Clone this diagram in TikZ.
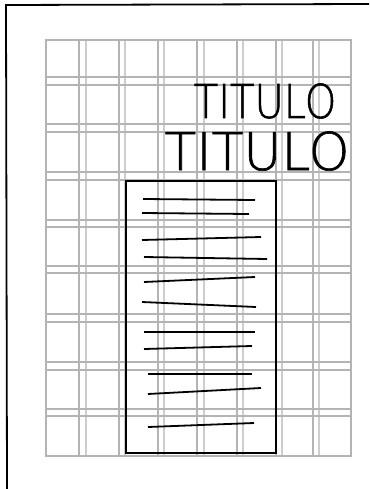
\documentclass[tikz,border=0pt]{standalone}
\usepackage{fontspec}
\newfontfamily\thinfont[FakeBold=1.2]{DejaVu Sans ExtraLight}
\definecolor{gridgray}{HTML}{B4B4B4}
\definecolor{gridlight}{HTML}{CDCDCD}
\tikzset{
	pageedge/.style={line width=1.8pt, draw=black},
	gridline/.style={line width=1.1pt, draw=gridgray},
	gridfaint/.style={line width=1.1pt, draw=gridlight},
	blockbox/.style={line width=2pt, draw=black},
	textstroke/.style={line width=1.8pt, draw=black},
	titlenode/.style={inner sep=0pt, anchor=base, font=\thinfont}
}

\begin{document}
\begin{tikzpicture}[x=1pt, y=-1pt]
	\useasboundingbox (0,0) rectangle (369,489);
	% page edges
	\draw[pageedge] (7,489) -- (6,5) -- (369,4);
	% grid columns and rows
	\foreach \gx in {79,119,158,197,237,276,313}
		\draw[gridline] (\gx,40) -- (\gx,456);
	\foreach \gx in {86,125,164,204,243,282,319}
		\draw[gridfaint] (\gx,40) -- (\gx,456);
	\foreach \gy in {77,85,124,132,172,180,220,227,266,273,314,322,362,370,409,416}
		\draw[gridline] (46,\gy) -- (351,\gy);
	\draw[gridline] (46,40) rectangle (351,456);
	% titles
	\node[titlenode, font=\thinfont\fontsize{46.6}{50}\selectfont, xscale=0.86] (title1) at (265,118) {TITULO};
	\node[titlenode, font=\thinfont\fontsize{52}{56}\selectfont] (title2) at (257,170) {TITULO};
	% text block
	\draw[blockbox] (126,181) rectangle (276,453);
	\draw[textstroke] (143,199) -- (255,200);
	\draw[textstroke] (142,213) -- (249,214);
	\draw[textstroke] (142,240) -- (261,237);
	\draw[textstroke] (144,257) -- (267,259);
	\draw[textstroke] (144,282) -- (255,277);
	\draw[textstroke] (142,302) -- (256,307);
	\draw[textstroke] (144,332) -- (255,332);
	\draw[textstroke] (144,349) -- (252,346);
	\draw[textstroke, line width=2.4pt] (148,374) -- (252,374);
	\draw[textstroke] (148,394) -- (261,388);
	\draw[textstroke] (148,427) -- (254,423);
\end{tikzpicture}
\end{document}
